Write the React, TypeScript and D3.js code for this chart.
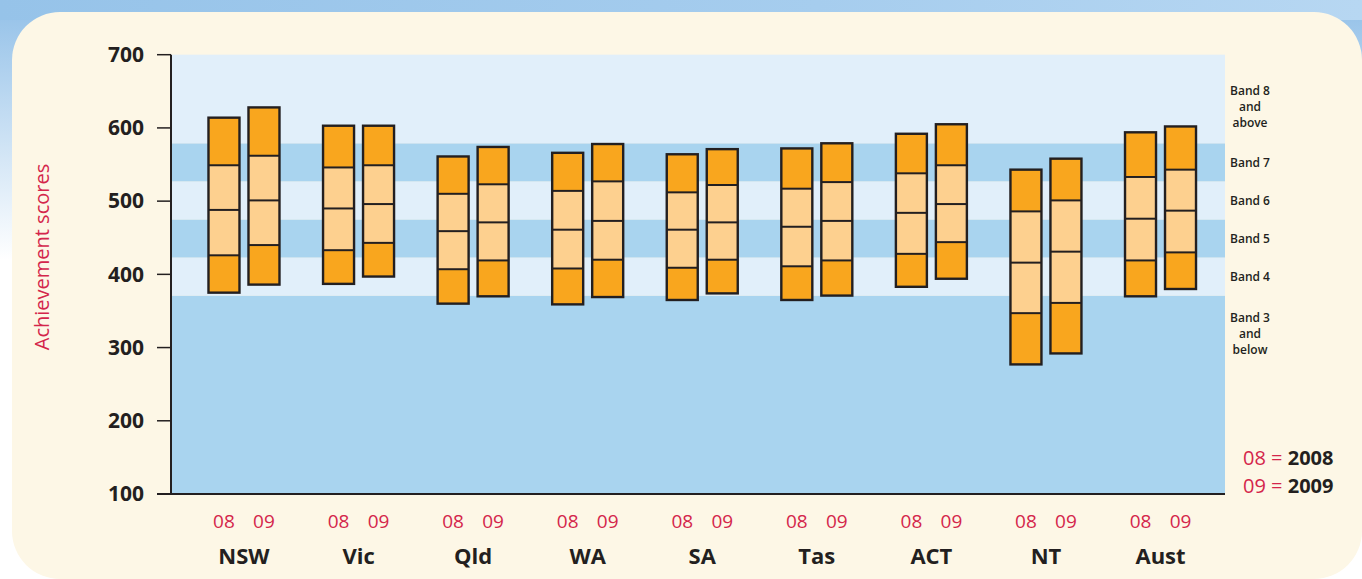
import React from 'react';
import * as d3 from 'd3';

// percentiles per state: 5th, 20th, 50th, 80th, 95th
const states = ['NSW', 'Vic', 'Qld', 'WA', 'SA', 'Tas', 'ACT', 'NT', 'Aust'];
const pct2008 = [
  [375, 426, 488, 549, 614],
  [387, 433, 490, 546, 603],
  [360, 407, 459, 510, 561],
  [359, 408, 461, 514, 566],
  [365, 409, 461, 512, 564],
  [365, 411, 465, 517, 572],
  [383, 428, 484, 538, 592],
  [277, 347, 416, 486, 543],
  [370, 419, 476, 533, 594],
];
const pct2009 = [
  [386, 440, 501, 562, 628],
  [397, 443, 496, 549, 603],
  [370, 419, 471, 523, 574],
  [369, 420, 473, 527, 578],
  [374, 420, 471, 522, 571],
  [371, 419, 473, 526, 579],
  [394, 444, 496, 549, 605],
  [292, 361, 431, 501, 558],
  [380, 430, 487, 543, 602],
];
const yTicks = [100, 200, 300, 400, 500, 600, 700];
// band boundaries (score) from bottom to top
const bandEdges = [100, 371, 423, 475, 527, 579, 700];
const bandLabels = [
  ['Band 3', 'and', 'below'],
  ['Band 4'],
  ['Band 5'],
  ['Band 6'],
  ['Band 7'],
  ['Band 8', 'and', 'above'],
];
const years = ['08', '09'];
const legend = [
  ['08', '2008'],
  ['09', '2009'],
];

const W = 1362;
const H = 579;
const RED = '#d4264b';
const INK = '#231f20';
const font = '"Open Sans", "DejaVu Sans", sans-serif';

const App: React.FC = () => {
  const plotLeft = 171;
  const plotRight = 1225;
  const y = d3.scaleLinear().domain([100, 700]).range([494, 54.7]);
  const x = d3.scaleBand<string>().domain(states).range([186.7, 1217.8]);
  const barW = 31;
  const off = 20;

  const segColors = ['#f9a61e', '#fdd08f', '#fdd08f', '#f9a61e'];

  const drawBar = (vals: number[], cx: number, key: string) => (
    <g key={key}>
      {d3.pairs(vals).map(([lo, hi], i) => (
        <rect
          key={i}
          x={cx - barW / 2}
          y={y(hi)}
          width={barW}
          height={y(lo) - y(hi)}
          fill={segColors[i]}
          stroke="none"
        />
      ))}
      {vals.slice(1, 4).map((v, i) => (
        <line
          key={'l' + i}
          x1={cx - barW / 2}
          x2={cx + barW / 2}
          y1={y(v)}
          y2={y(v)}
          stroke={INK}
          strokeWidth={2}
        />
      ))}
      <rect
        x={cx - barW / 2}
        y={y(vals[4])}
        width={barW}
        height={y(vals[0]) - y(vals[4])}
        fill="none"
        stroke={INK}
        strokeWidth={2.4}
      />
    </g>
  );

  return (
    <svg
      width={W}
      height={H}
      style={{ position: 'absolute', left: 0, top: 0, fontFamily: font }}
    >
      <defs>
        <linearGradient id="bg" x1="0" y1="0" x2="0" y2="1">
          <stop offset="0" stopColor="#92c0e8" />
          <stop offset="0.45" stopColor="#ffffff" />
          <stop offset="1" stopColor="#ffffff" />
        </linearGradient>
        <linearGradient id="topbg" x1="0" y1="0" x2="1" y2="0">
          <stop offset="0" stopColor="#96c3e9" />
          <stop offset="0.6" stopColor="#a6cdee" />
          <stop offset="1" stopColor="#b7d7f2" />
        </linearGradient>
      </defs>
      <rect x={0} y={0} width={W} height={H} fill="url(#bg)" />
      <rect x={0} y={0} width={W} height={20} fill="url(#topbg)" />
      <rect x={12} y={12} width={W - 12} height={H - 12} rx={48} fill="#fdf7e6" />

      {/* band backgrounds */}
      {d3.pairs(bandEdges).map(([lo, hi], i) => (
        <rect
          key={i}
          x={plotLeft}
          y={y(hi)}
          width={plotRight - plotLeft}
          height={y(lo) - y(hi)}
          fill={i % 2 === 0 ? '#a9d4ef' : '#e1effa'}
        />
      ))}

      {/* y axis */}
      <line x1={plotLeft} x2={plotLeft} y1={y(700)} y2={y(100)} stroke={INK} strokeWidth={2} />
      <line x1={157} x2={plotRight} y1={y(100)} y2={y(100)} stroke={INK} strokeWidth={2.2} />
      {yTicks.map((t) => (
        <g key={t}>
          <line x1={157} x2={plotLeft} y1={y(t)} y2={y(t)} stroke={INK} strokeWidth={1.5} />
          <text
            x={144}
            y={y(t)}
            dy="0.35em"
            textAnchor="end"
            fontSize={21}
            fontWeight="bold"
            fill={INK}
          >
            {t}
          </text>
        </g>
      ))}
      <text
        transform="translate(42,257) rotate(-90)"
        textAnchor="middle"
        dy="0.35em"
        fontSize={20}
        fill={RED}
      >
        Achievement scores
      </text>

      {/* bars */}
      {states.map((s, i) => {
        const c = (x(s) ?? 0) + x.bandwidth() / 2;
        return (
          <g key={s}>
            {drawBar(pct2008[i], c - off, s + '08')}
            {drawBar(pct2009[i], c + off, s + '09')}
            {years.map((yr, j) => (
              <text
                key={yr}
                x={c + (j === 0 ? -off : off)}
                y={521}
                dy="0.35em"
                textAnchor="middle"
                fontSize={19}
                fill={RED}
              >
                {yr}
              </text>
            ))}
            <text
              x={c}
              y={556}
              dy="0.35em"
              textAnchor="middle"
              fontSize={22}
              fontWeight="bold"
              fill={INK}
            >
              {s}
            </text>
          </g>
        );
      })}

      {/* band labels */}
      {bandLabels.map((lines, i) => {
        const mid = (y(bandEdges[i]) + y(bandEdges[i + 1])) / 2;
        let cy = mid;
        if (i === 0) cy = 333.3;
        if (i === 5) cy = 106.7;
        return (
          <text
            key={i}
            x={1250}
            textAnchor="middle"
            fontSize={12}
            fontWeight={600}
            fill={INK}
          >
            {lines.map((l, k) => (
              <tspan key={k} x={1250} y={cy + (k - (lines.length - 1) / 2) * 16} dy="0.35em">
                {l}
              </tspan>
            ))}
          </text>
        );
      })}

      {/* legend */}
      {legend.map(([a, b], i) => (
        <text key={a} x={1243} y={458 + i * 28} dy="0.35em" fontSize={20}>
          <tspan fill={RED}>{a} =</tspan>
          <tspan fill={INK} fontWeight="bold"> {b}</tspan>
        </text>
      ))}
    </svg>
  );
};

export default App;
